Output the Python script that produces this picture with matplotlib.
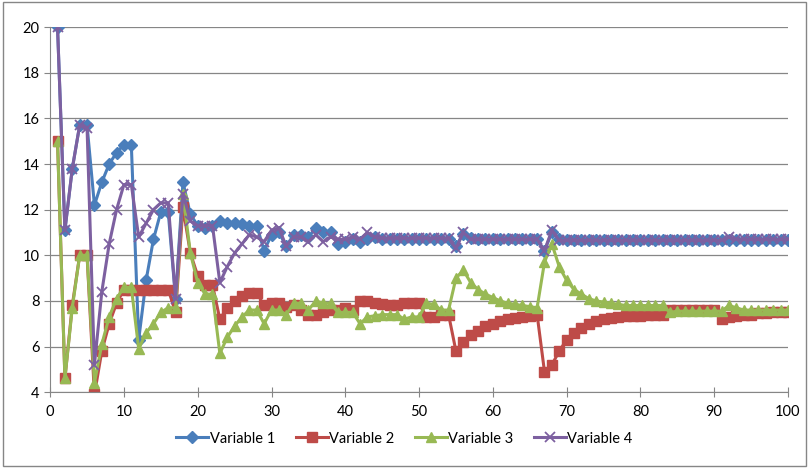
import matplotlib.pyplot as plt

x = list(range(1, 101))

var1 = [20.0, 11.1, 13.8, 15.7, 15.7, 12.2, 13.2, 14.0, 14.5, 14.85,
        14.85, 6.3, 8.9, 10.7, 11.9, 11.9, 8.1, 13.2, 11.8, 11.3,
        11.2, 11.3, 11.5, 11.4, 11.4, 11.35, 11.3, 11.3, 10.2, 10.9,
        11.0, 10.4, 10.9, 10.9, 10.8, 11.2, 11.0, 11.0, 10.5, 10.6,
        10.7, 10.6, 10.7, 10.8, 10.7, 10.7, 10.7, 10.7, 10.7, 10.7,
        10.7, 10.7, 10.7, 10.7, 10.4, 10.95, 10.75, 10.7, 10.7, 10.7,
        10.7, 10.7, 10.7, 10.7, 10.7, 10.7, 10.2, 11.0, 10.7, 10.65,
        10.65, 10.65, 10.65, 10.65, 10.65, 10.65, 10.65, 10.65, 10.65, 10.65,
        10.65, 10.65, 10.65, 10.65, 10.65, 10.65, 10.65, 10.65, 10.65, 10.65,
        10.65, 10.65, 10.65, 10.65, 10.65, 10.65, 10.65, 10.65, 10.65, 10.65]

var2 = [15.0, 4.6, 7.8, 10.0, 10.0, 3.9, 5.8, 7.0, 7.9, 8.5,
        8.5, 8.5, 8.5, 8.5, 8.5, 8.5, 7.5, 12.1, 10.1, 9.1,
        8.7, 8.7, 7.2, 7.7, 8.0, 8.2, 8.35, 8.35, 7.8, 7.9,
        7.9, 7.75, 7.8, 7.6, 7.4, 7.4, 7.5, 7.6, 7.6, 7.7,
        7.6, 8.0, 8.0, 7.9, 7.85, 7.8, 7.8, 7.9, 7.9, 7.9,
        7.3, 7.3, 7.4, 7.4, 5.8, 6.2, 6.5, 6.7, 6.9, 7.0,
        7.1, 7.2, 7.25, 7.3, 7.35, 7.4, 4.9, 5.2, 5.8, 6.3,
        6.6, 6.8, 7.0, 7.1, 7.2, 7.25, 7.3, 7.35, 7.35, 7.35,
        7.4, 7.4, 7.4, 7.6, 7.6, 7.6, 7.6, 7.6, 7.6, 7.6,
        7.2, 7.3, 7.35, 7.4, 7.4, 7.45, 7.45, 7.5, 7.5, 7.5]

var3 = [15.0, 4.6, 7.7, 10.0, 10.0, 4.4, 6.1, 7.3, 8.1, 8.6,
        8.6, 5.9, 6.6, 7.0, 7.5, 7.7, 7.7, 12.7, 10.1, 8.8,
        8.3, 8.3, 5.7, 6.4, 6.9, 7.3, 7.6, 7.6, 7.0, 7.6,
        7.6, 7.4, 7.9, 7.9, 7.6, 8.0, 7.9, 7.9, 7.5, 7.5,
        7.5, 7.0, 7.3, 7.35, 7.4, 7.4, 7.4, 7.2, 7.3, 7.3,
        7.9, 7.85, 7.6, 7.6, 9.0, 9.35, 8.8, 8.5, 8.3, 8.15,
        8.0, 7.9, 7.85, 7.8, 7.75, 7.7, 9.7, 10.5, 9.5, 8.9,
        8.5, 8.3, 8.1, 8.0, 7.95, 7.9, 7.85, 7.8, 7.8, 7.8,
        7.8, 7.8, 7.8, 7.5, 7.55, 7.55, 7.55, 7.55, 7.55, 7.55,
        7.55, 7.8, 7.7, 7.6, 7.6, 7.6, 7.6, 7.6, 7.6, 7.6]

var4 = [20.0, 11.1, 13.8, 15.7, 15.6, 5.2, 8.4, 10.5, 12.0, 13.1,
        13.1, 10.8, 11.4, 12.0, 12.3, 12.3, 8.1, 12.7, 11.5, 11.3,
        11.3, 11.3, 8.8, 9.5, 10.1, 10.5, 10.9, 10.8, 10.6, 11.1,
        11.2, 10.4, 10.8, 10.8, 10.6, 10.9, 10.6, 10.8, 10.7, 10.7,
        10.8, 10.7, 11.0, 10.8, 10.75, 10.75, 10.75, 10.75, 10.75, 10.75,
        10.75, 10.75, 10.75, 10.75, 10.3, 11.0, 10.7, 10.7, 10.7, 10.7,
        10.7, 10.7, 10.7, 10.7, 10.7, 10.7, 10.2, 11.1, 10.65, 10.65,
        10.65, 10.65, 10.65, 10.65, 10.65, 10.65, 10.65, 10.65, 10.65, 10.65,
        10.65, 10.65, 10.65, 10.65, 10.65, 10.65, 10.65, 10.65, 10.65, 10.65,
        10.65, 10.8, 10.7, 10.7, 10.7, 10.7, 10.7, 10.7, 10.7, 10.7]

labels = ['Variable 1', 'Variable 2', 'Variable 3', 'Variable 4']
colors = ['#4A7EBB', '#BE4B48', '#98B954', '#7D60A0']

plt.rcParams['font.family'] = ['Lato', 'DejaVu Sans']

fig = plt.figure(figsize=(8.09, 4.68), dpi=100)
ax = fig.add_axes([0.062, 0.162, 0.912, 0.78])

ax.plot(x, var1, color=colors[0], lw=2.2, marker='D', ms=6.5, label=labels[0])
ax.plot(x, var2, color=colors[1], lw=2.2, marker='s', ms=7, label=labels[1])
ax.plot(x, var3, color=colors[2], lw=2.2, marker='^', ms=7.5, label=labels[2])
ax.plot(x, var4, color=colors[3], lw=2.2, marker='x', ms=7, mew=1.3, label=labels[3])

ax.set_xlim(0, 100)
ax.set_ylim(4, 20)
ax.set_xticks(range(0, 101, 10))
ax.set_yticks(range(4, 21, 2))
ax.yaxis.grid(True, color='#868686', lw=0.9)
ax.set_axisbelow(True)
ax.tick_params(labelsize=10.5, colors='#868686', labelcolor='black', length=4)
ax.tick_params(axis='y', direction='out')
ax.tick_params(axis='x', direction='inout', length=7)
for s in ['top', 'right']:
    ax.spines[s].set_visible(False)
for s in ['left', 'bottom']:
    ax.spines[s].set_color('#868686')
ax.xaxis.set_tick_params(pad=6)

fig.legend(loc='lower center', ncol=4, bbox_to_anchor=(0.5, 0.02), frameon=False,
           fontsize=10.5, handlelength=2.2, handletextpad=0.1, columnspacing=1.4)

fig.patches.append(plt.Rectangle((0.004, 0.004), 0.992, 0.992, transform=fig.transFigure,
                                 fill=False, edgecolor='#868686', lw=1))

fig.savefig('out.png', dpi=100)
